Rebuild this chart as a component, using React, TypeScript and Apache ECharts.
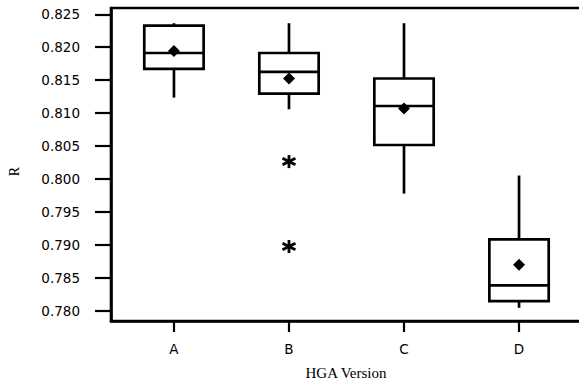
import React, { useEffect, useRef } from "react";
import * as echarts from "echarts";

const categories = ["A", "B", "C", "D"];
const whiskerLow = [0.81235, 0.81058, 0.79778, 0.78045];
const q1 = [0.81671, 0.81295, 0.80516, 0.78146];
const median = [0.81912, 0.81626, 0.81108, 0.78387];
const q3 = [0.82328, 0.81912, 0.81525, 0.79085];
const whiskerHigh = [0.82364, 0.82364, 0.82364, 0.80053];
const means = [0.81943, 0.81525, 0.81069, 0.78698];
// [category index, value]
const outlierCats = [1, 1];
const outlierValues = [0.80264, 0.78975];
const yTicks = [0.78, 0.785, 0.79, 0.795, 0.8, 0.805, 0.81, 0.815, 0.82, 0.825];
const xTicks = [1, 2, 3, 4];

export default function App() {
  const ref = useRef<HTMLDivElement>(null);
  useEffect(() => {
    if (!ref.current) return;
    const chart = echarts.init(ref.current, undefined, { renderer: "svg" });
    const boxData = categories.map((c, i) => [
      i + 1,
      whiskerLow[i],
      q1[i],
      median[i],
      q3[i],
      whiskerHigh[i],
    ]);
    const lineStyle = { stroke: "#000", lineWidth: 2.7, fill: "none" };
    chart.setOption({
      animation: false,
      backgroundColor: "#fff",
      grid: {
        left: 111,
        right: 9,
        top: 8,
        bottom: 61.7,
        show: true,
        borderColor: "#000",
        borderWidth: 2.6,
        backgroundColor: "transparent",
      },
      xAxis: {
        type: "value",
        min: 0.4527,
        max: 4.5387,
        name: "HGA Version",
        nameLocation: "middle",
        nameGap: 44,
        nameTextStyle: {
          fontFamily: "Liberation Serif",
          fontSize: 15,
          color: "#000",
        },
        axisLine: { show: true, lineStyle: { color: "#000", width: 2.6 } },
        axisTick: {
          show: true,
          customValues: xTicks,
          length: 11,
          lineStyle: { color: "#000", width: 2.2 },
        },
        axisLabel: {
          customValues: xTicks,
          formatter: (v: number) => categories[Math.round(v) - 1] ?? "",
          margin: 21,
          fontFamily: "DejaVu Sans",
          fontSize: 13.5,
          color: "#000",
        },
        splitLine: { show: false },
      },
      yAxis: {
        type: "value",
        min: 0.77845,
        max: 0.82595,
        axisLine: { show: true, lineStyle: { color: "#000", width: 2.6 } },
        axisTick: {
          show: true,
          customValues: yTicks,
          length: 16,
          lineStyle: { color: "#000", width: 2.2 },
        },
        axisLabel: {
          customValues: yTicks,
          formatter: (v: number) => v.toFixed(3),
          margin: 31,
          fontFamily: "DejaVu Sans",
          fontSize: 13.5,
          color: "#000",
        },
        splitLine: { show: false },
      },
      graphic: [
        {
          type: "text",
          x: 14,
          y: 171.5,
          rotation: Math.PI / 2,
          style: {
            text: "R",
            fontFamily: "Liberation Serif",
            fontSize: 14,
            fill: "#000",
            align: "center",
            verticalAlign: "middle",
          },
        },
      ],
      series: [
        {
          type: "custom",
          data: boxData,
          encode: { x: 0, y: [1, 2, 3, 4, 5] },
          renderItem: (params: any, api: any) => {
            const x = api.value(0);
            const pLow = api.coord([x, api.value(1)]);
            const pQ1 = api.coord([x, api.value(2)]);
            const pMed = api.coord([x, api.value(3)]);
            const pQ3 = api.coord([x, api.value(4)]);
            const pHigh = api.coord([x, api.value(5)]);
            const half = api.size([1, 0])[0] * 0.258;
            const cx = pMed[0];
            return {
              type: "group",
              children: [
                {
                  type: "line",
                  shape: { x1: cx, y1: pHigh[1], x2: cx, y2: pQ3[1] },
                  style: lineStyle,
                },
                {
                  type: "line",
                  shape: { x1: cx, y1: pQ1[1], x2: cx, y2: pLow[1] },
                  style: lineStyle,
                },
                {
                  type: "rect",
                  shape: {
                    x: cx - half,
                    y: pQ3[1],
                    width: half * 2,
                    height: pQ1[1] - pQ3[1],
                  },
                  style: lineStyle,
                },
                {
                  type: "line",
                  shape: { x1: cx - half, y1: pMed[1], x2: cx + half, y2: pMed[1] },
                  style: lineStyle,
                },
              ],
            };
          },
          z: 2,
        },
        {
          type: "scatter",
          data: means.map((m, i) => [i + 1, m]),
          symbol: "diamond",
          symbolSize: 12,
          itemStyle: { color: "#000", opacity: 1 },
          z: 3,
        },
        {
          type: "custom",
          data: outlierCats.map((c, i) => [c + 1, outlierValues[i]]),
          encode: { x: 0, y: 1 },
          renderItem: (params: any, api: any) => {
            const p = api.coord([api.value(0), api.value(1)]);
            const r = 6.5;
            const angles = [Math.PI / 2, Math.PI / 6, (5 * Math.PI) / 6];
            return {
              type: "group",
              children: angles.map((a) => ({
                type: "line",
                shape: {
                  x1: p[0] - r * Math.cos(a) * 1.15,
                  y1: p[1] - r * Math.sin(a),
                  x2: p[0] + r * Math.cos(a) * 1.15,
                  y2: p[1] + r * Math.sin(a),
                },
                style: { stroke: "#000", lineWidth: 2.8 },
              })),
            };
          },
          z: 3,
        },
      ],
    });
    return () => chart.dispose();
  }, []);
  return (
    <div
      style={{
        position: "fixed",
        left: 0,
        top: 0,
        width: 579,
        height: 385,
        overflow: "hidden",
        background: "#fff",
      }}
    >
      <div ref={ref} style={{ width: 590, height: 385 }} />
    </div>
  );
}
